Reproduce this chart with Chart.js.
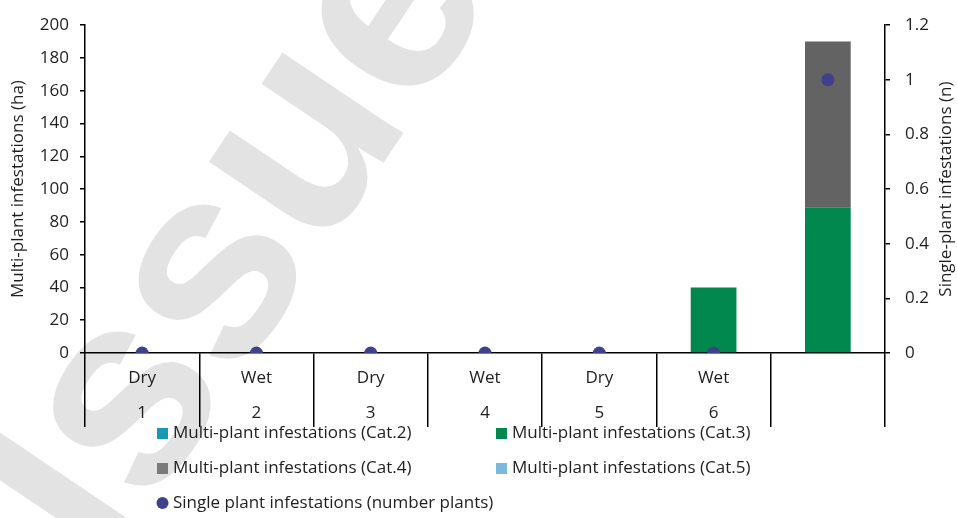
<!DOCTYPE html>
<html>
<head>
<meta charset="utf-8">
<script src="https://cdn.jsdelivr.net/npm/chart.js@4"></script>
<style>
  html, body { margin: 0; padding: 0; background: #fff; }
  #wrap { position: relative; width: 957px; height: 518px; }
</style>
</head>
<body>
<div id="wrap"><canvas id="c" width="957" height="518"></canvas></div>
<script>
// ---- data ----
const seasons = ['Dry', 'Wet', 'Dry', 'Wet', 'Dry', 'Wet', ''];
const periods = ['1', '2', '3', '4', '5', '6', ''];
const cat2Ha = [0, 0, 0, 0, 0, 0, 0];
const cat3Ha = [0, 0, 0, 0, 0, 40, 89];
const cat4Ha = [0, 0, 0, 0, 0, 0, 101];
const cat5Ha = [0, 0, 0, 0, 0, 0, 0];
const singlePlants = [0, 0, 0, 0, 0, 0, 1];
const seriesNames = [
  'Multi-plant infestations (Cat.2)',
  'Multi-plant infestations (Cat.3)',
  'Multi-plant infestations (Cat.4)',
  'Multi-plant infestations (Cat.5)',
  'Single plant infestations (number plants)'
];
const leftTitle = 'Multi-plant infestations (ha)';
const rightTitle = 'Single-plant infestations (n)';
const watermarkText = 'Issued';

const labels = seasons.map((s, i) => [s, periods[i]]);
const FONT = "'Open Sans', 'Noto Sans', sans-serif";
const FS = 17;
const TXT = '#1e1e1e';

const watermark = {
  id: 'watermark',
  beforeDraw(chart) {
    const ctx = chart.ctx;
    ctx.save();
    ctx.translate(106, 574);
    ctx.rotate(-56 * Math.PI / 180);
    ctx.font = "bold 275px 'Liberation Sans', Arial, sans-serif";
    ctx.fillStyle = '#e3e3e3';
    ctx.textBaseline = 'alphabetic';
    ctx.textAlign = 'left';
    ctx.fillText(watermarkText, 0, 0);
    ctx.restore();
  }
};

const rightAxisTitle = {
  id: 'rightAxisTitle',
  afterDraw(chart) {
    const ctx = chart.ctx;
    const a = chart.chartArea;
    ctx.save();
    ctx.translate(946, (a.top + a.bottom) / 2);
    ctx.rotate(-Math.PI / 2);
    ctx.font = FS + 'px ' + FONT;
    ctx.fillStyle = TXT;
    ctx.textAlign = 'center';
    ctx.textBaseline = 'middle';
    ctx.fillText(rightTitle, 0, 0);
    ctx.restore();
  }
};

const customLegend = {
  id: 'customLegend',
  afterDraw(chart) {
    const ctx = chart.ctx;
    const ds = chart.data.datasets;
    const pos = [[157, 433], [496, 433], [157, 468], [496, 468], [157, 503]];
    ctx.save();
    ctx.font = FS + 'px ' + FONT;
    ctx.textBaseline = 'middle';
    ctx.textAlign = 'left';
    ds.forEach((d, i) => {
      const [x, y] = pos[i];
      ctx.fillStyle = d.legendColor;
      if (d.type === 'line') {
        ctx.beginPath();
        ctx.arc(x + 5.5, y, 6, 0, Math.PI * 2);
        ctx.fill();
      } else {
        ctx.fillRect(x, y - 5, 11, 11);
      }
      ctx.fillStyle = TXT;
      ctx.fillText(d.label, x + 16, y);
    });
    ctx.restore();
  }
};

const barCommon = { type: 'bar', yAxisID: 'y', stack: 'ha', barPercentage: 0.4, categoryPercentage: 1, borderWidth: 0 };

new Chart(document.getElementById('c'), {
  data: {
    labels: labels,
    datasets: [
      Object.assign({}, barCommon, { label: seriesNames[0], data: cat2Ha, backgroundColor: '#1799B5', legendColor: '#1799B5', order: 2 }),
      Object.assign({}, barCommon, { label: seriesNames[1], data: cat3Ha, backgroundColor: '#00884F', legendColor: '#00884F', order: 2 }),
      Object.assign({}, barCommon, { label: seriesNames[2], data: cat4Ha, backgroundColor: '#636363', legendColor: '#7A7A7A', order: 2 }),
      Object.assign({}, barCommon, { label: seriesNames[3], data: cat5Ha, backgroundColor: '#7AB8DC', legendColor: '#7AB8DC', order: 2 }),
      { type: 'line', label: seriesNames[4], data: singlePlants, yAxisID: 'y1', showLine: false,
        pointRadius: 6.5, pointHoverRadius: 6.5, pointBackgroundColor: '#3F418C', pointBorderWidth: 0,
        borderColor: '#3F418C', legendColor: '#3F418C', order: 1 }
    ]
  },
  options: {
    responsive: false,
    animation: false,
    layout: { padding: { top: 22, left: 0, right: 0, bottom: 0 } },
    plugins: { legend: { display: false }, tooltip: { enabled: false } },
    scales: {
      x: {
        stacked: true,
        grid: { offset: true, drawOnChartArea: false, tickLength: 74, color: '#000', lineWidth: 1.5 },
        border: { color: '#000', width: 1.5 },
        ticks: { font: { family: FONT, size: FS, lineHeight: 2.1 }, color: TXT, padding: -67, maxRotation: 0, autoSkip: false },
        afterFit(s) { s.height = 165; }
      },
      y: {
        stacked: true, position: 'left', min: 0, max: 200,
        grid: { drawOnChartArea: false, tickLength: 5, color: '#000', lineWidth: 1.5 },
        border: { color: '#000', width: 1.5 },
        ticks: { stepSize: 20, font: { family: FONT, size: FS }, color: TXT, padding: 11 },
        title: { display: true, text: leftTitle, font: { family: FONT, size: FS }, color: TXT, padding: { top: 8, bottom: 0 } },
        afterFit(s) { s.width = 85; }
      },
      y1: {
        stacked: false, position: 'right', min: 0, max: 1.2,
        grid: { drawOnChartArea: false, tickLength: 5, color: '#000', lineWidth: 1.5 },
        border: { color: '#000', width: 1.5 },
        ticks: { stepSize: 0.2, font: { family: FONT, size: FS }, color: TXT, padding: 15,
          callback: (v) => String(Math.round(v * 10) / 10) },
        title: { display: false },
        afterFit(s) { s.width = 72; }
      }
    }
  },
  plugins: [watermark, rightAxisTitle, customLegend]
});
</script>
</body>
</html>
